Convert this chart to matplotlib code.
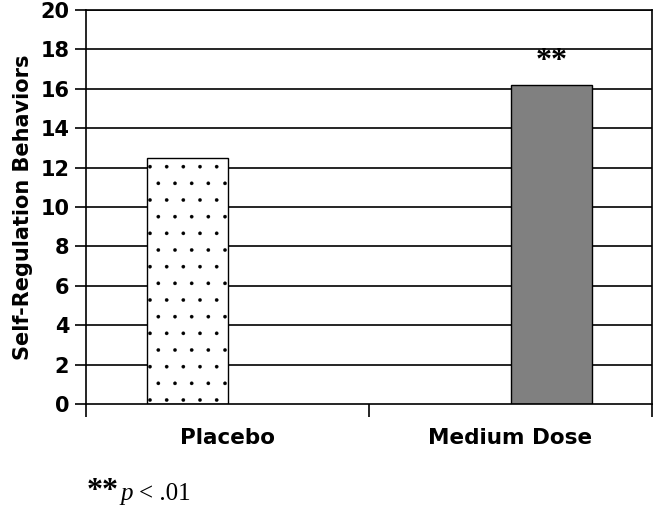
import numpy as np
import matplotlib.pyplot as plt

groups = ['Placebo', 'Medium Dose']
scores = [12.5, 16.2]
bar_pos = [0.358, 1.644]
yticks = [0, 2, 4, 6, 8, 10, 12, 14, 16, 18, 20]

plt.rcParams['hatch.linewidth'] = 0.2

fig = plt.figure(figsize=(6.53, 5.07), dpi=100)
ax = fig.add_axes([86 / 653, 1 - 404 / 507, 566 / 653, 394 / 507])

for y in yticks[1:]:
    ax.axhline(y, color='black', lw=1.2, zorder=1)

ax.bar(bar_pos[0], scores[0], width=0.286, color='white', edgecolor='black',
       hatch='.', lw=1.0, zorder=2)
ax.bar(bar_pos[1], scores[1], width=0.286, color='#808080', edgecolor='black',
       lw=1.0, zorder=2)
ax.text(bar_pos[1], scores[1] + 1.2, '**', ha='center', va='center',
        fontsize=23, fontweight='bold', family='Liberation Serif')

ax.set_xlim(0, 2)
ax.set_ylim(0, 20)
ax.set_yticks(yticks)
ax.set_yticklabels([str(t) for t in yticks], fontsize=15, fontweight='bold')
ax.set_xticks([0, 1, 2])
ax.set_xticklabels([])
ax.set_xticks([0.5, 1.5], minor=True)
ax.set_xticklabels(groups, minor=True, fontsize=15.5, fontweight='bold')
ax.tick_params(axis='x', which='major', length=9, width=1.2, direction='out')
ax.tick_params(axis='x', which='minor', length=0, pad=17)
ax.tick_params(axis='y', length=8, width=1.2, pad=4)
for s in ax.spines.values():
    s.set_linewidth(1.2)

ax.set_ylabel('Self-Regulation Behaviors', fontsize=15, fontweight='bold',
              labelpad=5)

fig.text(87 / 653, 1 - 477 / 507, '**', fontsize=23, fontweight='bold',
         family='Liberation Serif', va='top')
fig.text(120 / 653, 1 - 500 / 507, 'p', fontsize=18, style='italic',
         family='Liberation Serif', va='baseline')
fig.text(139 / 653, 1 - 500 / 507, '< .01', fontsize=18,
         family='Liberation Serif', va='baseline')

fig.savefig('out.png', dpi=100)
